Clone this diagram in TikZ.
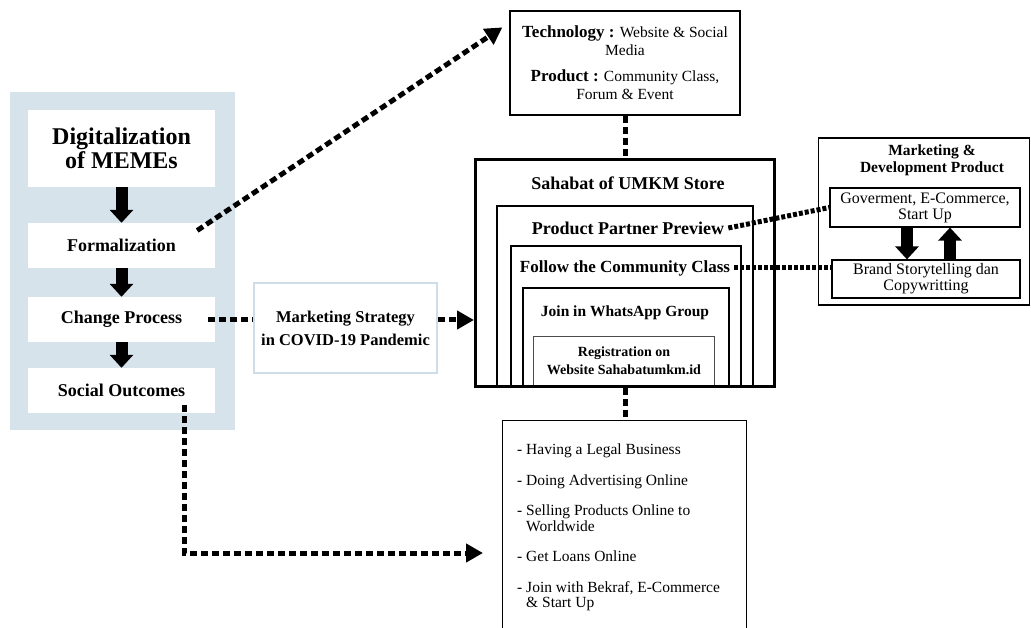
\documentclass[tikz,border=0pt]{standalone}
\usepackage{fontspec}
\setmainfont{Liberation Serif}
\usetikzlibrary{arrows.meta,calc}
\definecolor{panelblue}{HTML}{D6E3EB}
\definecolor{frameblue}{HTML}{CEDDE7}
\begin{document}
\begin{tikzpicture}[x=1pt,y=-1pt,
    stepbox/.style={fill=white,minimum width=187pt,minimum height=45pt,inner sep=0pt,align=center,
        font=\bfseries\fontsize{18}{21}\selectfont},
    plainbox/.style={draw,line width=1.2pt,inner sep=0pt,align=center},
    storetext/.style={inner sep=4pt,align=center,font=\bfseries\fontsize{18}{21}\selectfont},
    blockarrow/.style={line width=12pt,-{Triangle[width=23pt,length=13pt]}},
    dashlink/.style={line width=5pt,dash pattern=on 7pt off 4pt},
    dotlink/.style={line width=5pt,dash pattern=on 4pt off 2pt},
    tip/.style={-{Triangle[width=18pt,length=17pt]}}]
    \useasboundingbox (0,0) rectangle (1031,628);
    % left column
    \fill[panelblue] (10,92) rectangle (235,430);
    \node[stepbox,minimum height=77pt,font=\bfseries\fontsize{24}{24}\selectfont] (digi) at (121.5,148.5) {Digitalization\\of MEMEs};
    \node[stepbox] (formal) at (121.5,245.5) {Formalization};
    \node[stepbox] (change) at (121.5,319.5) {Change Process};
    \node[stepbox] (social) at (121.5,390.5) {Social Outcomes};
    \draw[blockarrow] (digi) -- (formal);
    \draw[blockarrow] (formal) -- (change);
    \draw[blockarrow] (change) -- (social);
    % technology and product
    \node[plainbox,minimum width=230pt,minimum height=104pt,font=\fontsize{15.5}{18}\selectfont] (tech) at (625,63)
        {{\bfseries\fontsize{17}{18}\selectfont Technology :} Website \& Social\\Media\\[8pt]
         {\bfseries\fontsize{17}{18}\selectfont Product :} Community Class,\\Forum \& Event};
    % nested store boxes
    \node[draw,line width=2pt,minimum width=256pt,minimum height=180pt,anchor=north west] (partnerbox) at (496,205) {};
    \node[draw,line width=2pt,minimum width=230pt,minimum height=140pt,anchor=north west] (followbox) at (510,245) {};
    \node[draw,line width=1.6pt,minimum width=206pt,minimum height=98pt,anchor=north west] (groupbox) at (522,287) {};
    \node[draw=black!70,line width=1.2pt,minimum width=181pt,minimum height=49pt,anchor=north west] (registbox) at (533,336) {};
    \node[draw,line width=3pt,minimum width=299pt,minimum height=227pt,anchor=north west] (store) at (474,158) {};
    \node[storetext] (storetitle) at (628,183) {Sahabat of UMKM Store};
    \node[storetext] (partner) at (628,228) {Product Partner Preview};
    \node[storetext,font=\bfseries\fontsize{17}{20}\selectfont] (follow) at (625,268) {Follow the Community Class};
    \node[storetext,font=\bfseries\fontsize{15.5}{18}\selectfont] (whatsapp) at (625,313) {Join in WhatsApp Group};
    \node[storetext,font=\bfseries\fontsize{14}{18}\selectfont] (regist) at (624,361) {Registration on\\Website Sahabatumkm.id};
    % marketing and development
    \node[draw,line width=1.5pt,minimum width=211pt,minimum height=167pt] (devbox) at (924,221.5) {};
    \node[align=center,font=\bfseries\fontsize{15.5}{17}\selectfont] (devtitle) at (932,160.5) {Marketing \&\\Development Product};
    \node[plainbox,minimum width=190pt,minimum height=39pt,font=\fontsize{16}{16}\selectfont] (gov) at (925,207.5) {Goverment, E-Commerce,\\Start Up};
    \node[plainbox,minimum width=188pt,minimum height=38pt,font=\fontsize{16}{16}\selectfont] (brand) at (926,279) {Brand Storytelling dan\\Copywritting};
    \draw[blockarrow] ([xshift=-18pt]gov.south) -- ([xshift=-18pt]gov.south |- brand.north);
    \draw[blockarrow] ([xshift=25pt]gov.south |- brand.north) -- ([xshift=25pt]gov.south);
    % strategy
    \node[draw=frameblue,line width=2pt,minimum width=183pt,minimum height=90pt,align=center,
        font=\bfseries\fontsize{16.5}{23}\selectfont] (strategy) at (345.5,328) {Marketing Strategy\\in COVID-19 Pandemic};
    % outcomes
    \node[plainbox,minimum width=244pt,minimum height=220pt,anchor=north west] (outcomes) at (502,420) {};
    \node[anchor=north west,align=left,inner sep=0pt,font=\fontsize{15.5}{15.5}\selectfont] (benefits) at (517,444)
        {- Having a Legal Business\\[15pt]
         - Doing Advertising Online\\[15pt]
         - Selling Products Online to\\\phantom{- }Worldwide\\[15pt]
         - Get Loans Online\\[15pt]
         - Join with Bekraf, E-Commerce\\\phantom{- }\& Start Up};
    \coordinate (outin) at (483,553);
    % connectors
    \draw[dashlink,tip] ([xshift=-18pt,yshift=15pt]formal.east) -- ($(tech.north west)+(-7,17)$);
    \draw[dashlink] (tech.south) -- (tech.south |- store.north);
    \draw[dashlink] ([xshift=-7pt]change.east) -- (strategy.west |- change.east);
    \draw[dashlink,tip] ([yshift=8pt]strategy.east) -- ([yshift=8pt]strategy.east -| store.west);
    \draw[dashlink,tip] ([xshift=62.5pt,yshift=8pt]social.south) |- (outin);
    \draw[dashlink] (tech.south |- store.south) -- (tech.south |- outcomes.north);
    \draw[dotlink] (partner.east) -- (gov.west);
    \draw[dotlink] (follow.east) -- (follow.east -| brand.west);
\end{tikzpicture}
\end{document}
